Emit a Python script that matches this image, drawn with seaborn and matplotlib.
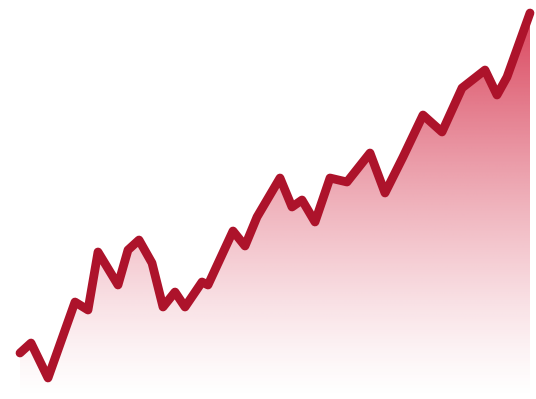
import numpy as np
import pandas as pd
import matplotlib
matplotlib.use("Agg")
import matplotlib.pyplot as plt
import seaborn as sns
from matplotlib.colors import to_rgb
from matplotlib.patches import PathPatch

# time positions and values (value = height above bottom)
t = [20, 31, 48, 75, 88, 98, 118, 128, 139, 152, 163, 175, 185, 202, 208,
     233, 245, 257, 280, 292, 302, 315, 330, 347, 370, 385, 403, 423, 442,
     462, 485, 497, 507, 530]
y_px = [353, 343, 378, 302, 310, 252, 285, 250, 240, 263, 307, 292, 307, 282, 285,
        231, 246, 217, 178, 207, 200, 222, 178, 182, 153, 193, 157, 115, 132,
        88, 70, 95, 77, 13]
values = [399 - v for v in y_px]

df = pd.DataFrame({"t": t, "value": values})

sns.set_style("white")
fig = plt.figure(figsize=(5.36, 3.99), dpi=100)
ax = fig.add_axes([0, 0, 1, 1])

# gradient fill under the line
base = np.array(to_rgb("#D42A45"))
h = 400
grad = np.zeros((h, 2, 4))
frac = np.linspace(0, 1, h)[:, None]  # 0 bottom -> 1 top
grad[:, :, :3] = base
grad[:, :, 3] = 0.92 * frac ** 1.3
im = ax.imshow(grad, extent=[0, 536, 0, 399], origin="lower", aspect="auto", zorder=1)
poly = ax.fill_between(df["t"], df["value"], 0, color="none", lw=0)
path = poly.get_paths()[0]
clip = PathPatch(path, transform=ax.transData, facecolor="none", edgecolor="none")
ax.add_patch(clip)
im.set_clip_path(clip)

sns.lineplot(data=df, x="t", y="value", ax=ax, color="#AD132B", linewidth=6.3,
             solid_joinstyle="round", solid_capstyle="round", zorder=3)
ax.set_xlim(0, 536)
ax.set_ylim(0, 399)
ax.axis("off")

fig.savefig("out.png", dpi=100)
